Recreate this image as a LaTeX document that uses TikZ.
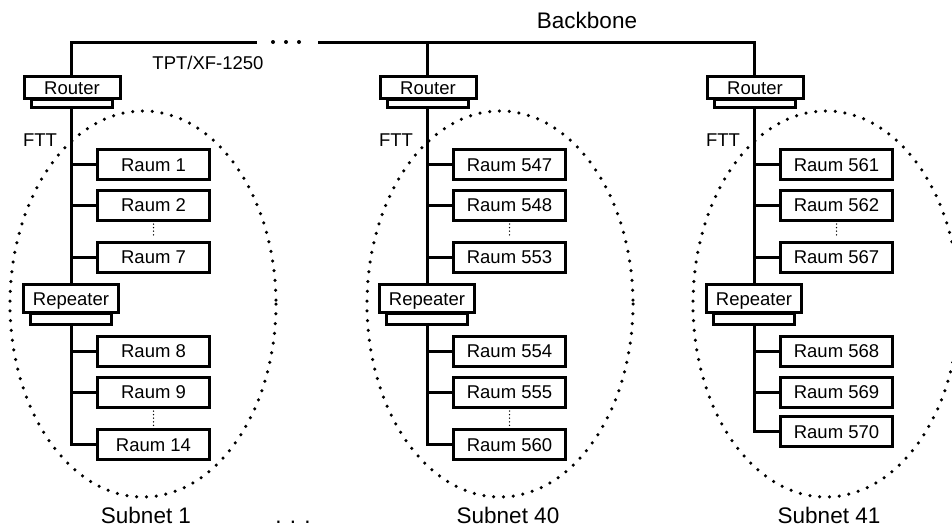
\documentclass[tikz,border=0pt]{standalone}
\usepackage{fontspec}
\setmainfont{Liberation Sans}
\begin{document}
\begin{tikzpicture}[x=1pt,y=-1pt,
  wire/.style={line width=3pt},
  box/.style={draw, fill=white, line width=3pt, inner sep=0pt, outer sep=0pt,
    font=\fontsize{18.5}{20}\selectfont, text height=13.2pt, text depth=0pt},
  raum/.style={box, minimum width=111.5pt, minimum height=30pt},
  router/.style={box, minimum width=96pt, minimum height=22pt},
  repeater/.style={box, minimum width=95pt, minimum height=28pt},
  rbase/.style={draw, fill=white, line width=3pt, inner sep=0pt, outer sep=0pt,
    minimum width=81pt, minimum height=8pt},
  pbase/.style={rbase, minimum height=11pt},
  gap/.style={line width=1.5pt, dash pattern=on 0pt off 3.6pt, line cap=round,
    shorten <=4pt, shorten >=4pt},
  zone/.style={line width=3.5pt, dash pattern=on 0pt off 9.8pt, line cap=round},
  small/.style={font=\fontsize{18.5}{20}\selectfont},
  big/.style={font=\fontsize{22.5}{24}\selectfont},
]
\useasboundingbox (0,0) rectangle (952,530);

% dotted subnet outlines
\draw[zone] (143,304) ellipse [x radius=133, y radius=193];
\draw[zone] (500,304) ellipse [x radius=133, y radius=193];
\draw[zone] (826,304) ellipse [x radius=133, y radius=193];

% backbone junctions and break
\coordinate (s1) at (71,42);
\coordinate (s2) at (427,42);
\coordinate (s3) at (754,42);
\coordinate (bbL) at (257,42);
\coordinate (bbR) at (318,42);
\foreach \dx in {273,286,299} \fill (\dx,42) circle [radius=2pt];

\node[big, anchor=base] (bbtitle) at (587,28) {Backbone};
\node[small] (cable) at (208,63) {TPT/XF-1250};

\foreach \n/\x/\la/\lb/\lc/\ld/\le/\lf/\ylast in
  {1/71/1/2/7/8/9/14/444.5,
   2/427/547/548/553/554/555/560/444.5,
   3/754/561/562/567/568/569/570/431.5}{
  % router with base plate
  \node[rbase] (rb\n) at (\x+1,103) {};
  \node[router] (r\n) at (\x+1,87.5) {Router};
  % repeater with base plate
  \node[pbase] (pb\n) at (\x,318.5) {};
  \node[repeater] (p\n) at (\x,298.5) {Repeater};
  % rooms
  \node[raum] (k\n a) at (\x+82.5,164.5) {Raum \la};
  \node[raum] (k\n b) at (\x+82.5,205) {Raum \lb};
  \node[raum] (k\n c) at (\x+82.5,257) {Raum \lc};
  \node[raum] (k\n d) at (\x+82.5,351) {Raum \ld};
  \node[raum] (k\n e) at (\x+82.5,392) {Raum \le};
  \node[raum] (k\n f) at (\x+82.5,\ylast) {Raum \lf};
  % FTT segment label
  \node[small] (ftt\n) at (\x-31,140) {FTT};
  % bus lines
  \draw[wire] (rb\n.south -| s\n) -- (p\n.north -| s\n);
  \draw[wire] (pb\n.south -| s\n) |- (k\n f.west);
  \foreach \k in {a,b,c,d,e} \draw[wire] (k\n\k.west) -- (k\n\k.west -| s\n);
  \draw[gap] (k\n b.south) -- (k\n c.north);
}
\draw[gap] (k1e.south) -- (k1f.north);
\draw[gap] (k2e.south) -- (k2f.north);

% backbone
\draw[wire] (r1.north -| s1) |- (bbL);
\draw[wire] (bbR) -- (s3) -- (r3.north -| s3);
\draw[wire] (s2) -- (r2.north -| s2);

% subnet captions
\node[big, anchor=base] (sn1) at (146,523) {Subnet 1};
\node[big, anchor=base] (sndots) at (293,523) {. . .};
\node[big, anchor=base] (sn40) at (508,523) {Subnet 40};
\node[big, anchor=base] (sn41) at (829,523) {Subnet 41};
\end{tikzpicture}
\end{document}
